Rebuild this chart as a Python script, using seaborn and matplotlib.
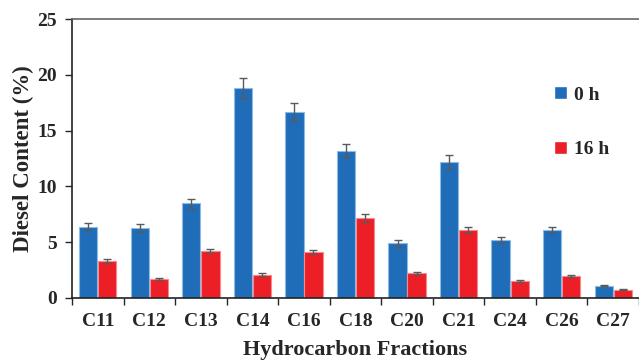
# Diesel content per hydrocarbon fraction at 0 h and 16 h, grouped bars with error bars
import numpy as np
import pandas as pd
import matplotlib
matplotlib.use('Agg')
import matplotlib.pyplot as plt
import seaborn as sns

fractions = ['C11', 'C12', 'C13', 'C14', 'C16', 'C18', 'C20', 'C21', 'C24', 'C26', 'C27']
content_0h = [6.4, 6.3, 8.5, 18.8, 16.7, 13.2, 4.9, 12.2, 5.2, 6.1, 1.1]
content_16h = [3.3, 1.7, 4.2, 2.1, 4.1, 7.2, 2.2, 6.1, 1.5, 2.0, 0.75]
err_0h = [0.35, 0.35, 0.4, 0.9, 0.8, 0.6, 0.3, 0.6, 0.25, 0.3, 0.05]
err_16h = [0.2, 0.08, 0.2, 0.12, 0.2, 0.35, 0.12, 0.3, 0.08, 0.1, 0.05]
times = ['0 h', '16 h']

df = pd.DataFrame({
    'fraction': fractions * 2,
    'content': content_0h + content_16h,
    'err': err_0h + err_16h,
    'time': [times[0]] * len(fractions) + [times[1]] * len(fractions),
})

sns.set_style('white')
plt.rcParams['font.family'] = ['Liberation Serif', 'DejaVu Serif']
plt.rcParams['font.weight'] = 'bold'

fig = plt.figure(figsize=(6.39, 3.62), dpi=100)
ax = fig.add_axes([72 / 639, 1 - 298 / 362, 1 - 72 / 639, (298 - 19) / 362])

palette = {'0 h': '#1F6DB8', '16 h': '#EC1F27'}
sns.barplot(data=df, x='fraction', y='content', hue='time', palette=palette,
            width=0.74, gap=0.04, errorbar=None, saturation=1, ax=ax)

# edge tint and error bars, read back from the drawn patches
edges = {'0 h': '#8DBBE6', '16 h': '#F48A8E'}
for container, t in zip(ax.containers, times):
    sub = df[df['time'] == t]
    xs = [p.get_x() + p.get_width() / 2 for p in container.patches]
    for p in container.patches:
        p.set_edgecolor(edges[t])
        p.set_linewidth(0.8)
    ax.errorbar(xs, sub['content'], yerr=sub['err'], fmt='none',
                ecolor='#5a5a5a', elinewidth=1.0, capsize=3, capthick=1.0, zorder=5)

ax.set_ylim(0, 25)
ax.set_xlim(-0.5, len(fractions) - 0.5)
ax.set_yticks([0, 5, 10, 15, 20, 25])
ax.tick_params(axis='y', which='major', direction='out', length=5, width=1,
               labelsize=14, left=True, pad=6)
ax.tick_params(axis='x', which='major', length=0, labelsize=14, pad=11)
ax.set_xticks(np.arange(len(fractions) + 1) - 0.5, minor=True)
ax.tick_params(axis='x', which='minor', direction='out', length=5, width=1, bottom=True)
for lab in ax.get_xticklabels() + ax.get_yticklabels():
    lab.set_fontweight('bold')

for side in ['left', 'bottom']:
    ax.spines[side].set_color('#222222')
    ax.spines[side].set_linewidth(1.2)
ax.spines['top'].set_color('#666666')
ax.spines['top'].set_linewidth(1.2)
ax.spines['right'].set_visible(False)

ax.set_xlabel('Hydrocarbon Fractions', fontsize=16, fontweight='bold', labelpad=7)
ax.set_ylabel('Diesel Content (%)', fontsize=16.5, fontweight='bold', labelpad=2)

handles, labels = ax.get_legend_handles_labels()
ax.legend(handles, labels, loc='center left', bbox_to_anchor=(0.82, 0.63), frameon=False,
          handlelength=0.65, handleheight=0.65, handletextpad=0.35, labelspacing=1.9,
          prop={'family': 'Liberation Serif', 'weight': 'bold', 'size': 14})

fig.savefig('out.png', dpi=100)
